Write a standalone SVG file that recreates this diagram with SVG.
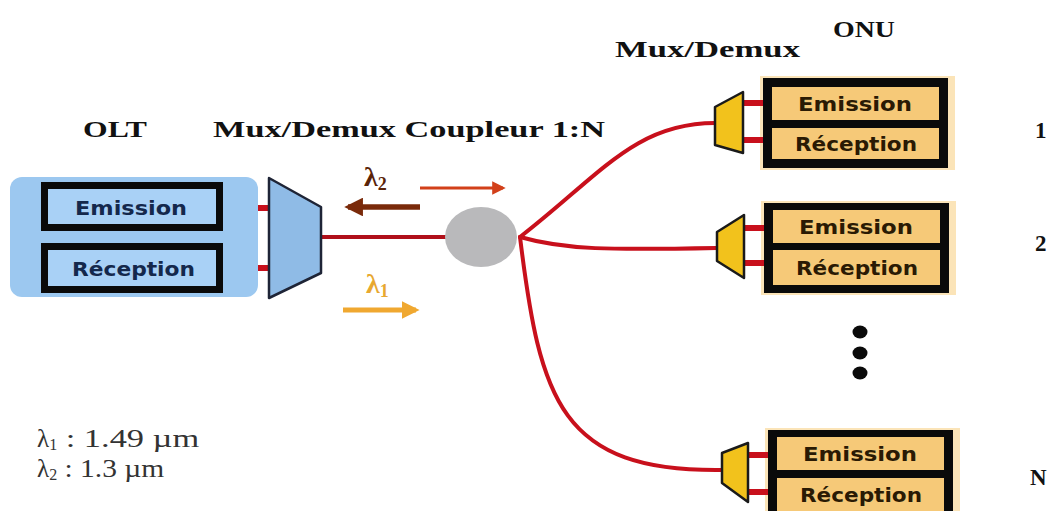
<svg xmlns="http://www.w3.org/2000/svg" width="1059" height="511" viewBox="0 0 1059 511">
<style>
.ser{font-family:"Liberation Serif","Times New Roman",serif;font-weight:bold;fill:#111}
.box{font-family:"DejaVu Sans","Verdana",sans-serif;font-weight:bold;font-size:20px}
.olt-t{fill:#14284c}
.onu-t{fill:#2a1a04}
.fib{fill:none;stroke:#c8101c;stroke-width:4;stroke-linecap:round}
.stub{stroke:#c8101c;stroke-width:6}
.oltbox{fill:#a9d1f6;stroke:#0a0a0a;stroke-width:7}
.onuframe{fill:#0a0a0a}
.onufill{fill:#f6c978}
.onumux{fill:#f2c21c;stroke:#1a1a1a;stroke-width:2.5;stroke-linejoin:round}
.leg{font-family:"Liberation Serif","Times New Roman",serif;font-size:25px;fill:#333}
</style>
<defs>
<marker id="ahR" viewBox="0 0 10 10" refX="8" refY="5" markerWidth="4.5" markerHeight="4.5" orient="auto"><path d="M0,0 L10,5 L0,10 z" fill="#d2401a"/></marker>
<marker id="ahB" viewBox="0 0 10 10" refX="8" refY="5" markerWidth="3.4" markerHeight="3.4" orient="auto"><path d="M0,0 L10,5 L0,10 z" fill="#7a2a0a"/></marker>
<marker id="ahG" viewBox="0 0 10 10" refX="8" refY="5" markerWidth="3.6" markerHeight="3.6" orient="auto"><path d="M0,0 L10,5 L0,10 z" fill="#f0a830"/></marker>
</defs>
<rect width="1059" height="511" fill="#fff"/>

<!-- titles -->
<text class="ser" x="83" y="137" font-size="23" textLength="64" lengthAdjust="spacingAndGlyphs">OLT</text>
<text class="ser" x="213" y="137" font-size="23" textLength="392" lengthAdjust="spacingAndGlyphs">Mux/Demux Coupleur 1:N</text>
<text class="ser" x="615" y="57" font-size="23" textLength="185" lengthAdjust="spacingAndGlyphs">Mux/Demux</text>
<text class="ser" x="833" y="37" font-size="23" textLength="62" lengthAdjust="spacingAndGlyphs">ONU</text>

<!-- connectors -->
<g id="connectors">
<line class="stub" x1="223" y1="208" x2="270" y2="208"/>
<line class="stub" x1="223" y1="268" x2="270" y2="268"/>
<line x1="321" y1="237" x2="450" y2="237" stroke="#b0101a" stroke-width="4"/>
<path class="fib" d="M520,237 C600,175 635,123 715,123"/>
<path class="fib" d="M520,237 C565,250 610,250 717,248"/>
<path class="fib" d="M520,237 C540,400 560,472 722,470"/>
<line x1="420" y1="188" x2="503" y2="188" stroke="#d2401a" stroke-width="3" marker-end="url(#ahR)"/>
<line x1="420" y1="207" x2="348" y2="207" stroke="#7a2a0a" stroke-width="5.5" marker-end="url(#ahB)"/>
<line x1="343" y1="310" x2="416" y2="310" stroke="#f0a830" stroke-width="5" marker-end="url(#ahG)"/>
</g>

<!-- OLT -->
<g id="olt">
<rect x="10" y="177" width="248" height="120" rx="12" fill="#9cc8f0"/>
<rect class="oltbox" x="44.5" y="185.5" width="175" height="42"/>
<rect class="oltbox" x="44.5" y="246.5" width="175" height="43"/>
<text class="box olt-t" x="75" y="215" textLength="112" lengthAdjust="spacingAndGlyphs">Emission</text>
<text class="box olt-t" x="72" y="276" textLength="123" lengthAdjust="spacingAndGlyphs">Réception</text>
</g>
<g id="olt-mux">
<polygon points="269,178 321,207 321,273 269,298" fill="#8fbbe6" stroke="#1e2436" stroke-width="2.5" stroke-linejoin="round"/>
</g>

<!-- coupler -->
<g id="coupler">
<ellipse cx="481" cy="237" rx="36" ry="30" fill="#b9b9bb"/>
</g>

<!-- lambda labels -->
<text class="ser" x="364" y="186" font-size="28" style="fill:#5a2408">λ<tspan font-size="18" dy="4">2</tspan></text>
<text class="ser" x="366" y="293" font-size="28" style="fill:#e8a830">λ<tspan font-size="18" dy="4">1</tspan></text>

<!-- ONU 1 -->
<g id="onu1">
<rect x="760" y="76" width="195" height="94" fill="#fbe4b8"/>
<line class="stub" x1="743" y1="103" x2="772" y2="103"/>
<line class="stub" x1="743" y1="140" x2="772" y2="140"/>
<polygon class="onumux" points="715,107 743,92 743,153 715,145"/>
<rect class="onuframe" x="763" y="78" width="185" height="90"/>
<rect class="onufill" x="772" y="87" width="167" height="33"/>
<rect class="onufill" x="772" y="128" width="167" height="31"/>
<text class="box onu-t" x="798" y="111" textLength="114" lengthAdjust="spacingAndGlyphs">Emission</text>
<text class="box onu-t" x="795" y="151" textLength="122" lengthAdjust="spacingAndGlyphs">Réception</text>
</g>

<!-- ONU 2 -->
<g id="onu2" transform="translate(1,125)">
<rect x="760" y="76" width="195" height="94" fill="#fbe4b8"/>
<line class="stub" x1="743" y1="103" x2="772" y2="103"/>
<line class="stub" x1="743" y1="138" x2="772" y2="138"/>
<polygon class="onumux" points="716,107 743,90 743,153 716,136"/>
<rect class="onuframe" x="763" y="78" width="185" height="90"/>
<rect class="onufill" x="772" y="85" width="167" height="33"/>
<rect class="onufill" x="772" y="125" width="167" height="35"/>
<text class="box onu-t" x="798" y="109" textLength="114" lengthAdjust="spacingAndGlyphs">Emission</text>
<text class="box onu-t" x="795" y="150" textLength="122" lengthAdjust="spacingAndGlyphs">Réception</text>
</g>

<!-- dots -->
<g id="dots" fill="#0a0a0a">
<ellipse cx="860" cy="332" rx="7.5" ry="6.5"/>
<ellipse cx="860" cy="353" rx="7.5" ry="6.5"/>
<ellipse cx="860" cy="373" rx="7.5" ry="6.5"/>
</g>

<!-- ONU N -->
<g id="onuN" transform="translate(5,352)">
<rect x="760" y="76" width="195" height="94" fill="#fbe4b8"/>
<line class="stub" x1="743" y1="103" x2="772" y2="103"/>
<line class="stub" x1="743" y1="140" x2="772" y2="140"/>
<polygon class="onumux" points="717,101 743,91 743,150 717,131"/>
<rect class="onuframe" x="763" y="78" width="185" height="90"/>
<rect class="onufill" x="772" y="85" width="167" height="33"/>
<rect class="onufill" x="772" y="126" width="167" height="35"/>
<text class="box onu-t" x="798" y="109" textLength="114" lengthAdjust="spacingAndGlyphs">Emission</text>
<text class="box onu-t" x="795" y="150" textLength="122" lengthAdjust="spacingAndGlyphs">Réception</text>
</g>

<!-- ONU numbers -->
<text class="ser" x="1035" y="138" font-size="23">1</text>
<text class="ser" x="1035" y="251" font-size="23">2</text>
<text class="ser" x="1030" y="485" font-size="23">N</text>

<!-- legend -->
<text class="leg" x="37" y="447">λ<tspan font-size="16" dy="3">1</tspan><tspan dy="-3" textLength="142" lengthAdjust="spacingAndGlyphs"> : 1.49 µm</tspan></text>
<text class="leg" x="37" y="477">λ<tspan font-size="16" dy="3">2</tspan><tspan dy="-3" textLength="107" lengthAdjust="spacingAndGlyphs"> : 1.3 µm</tspan></text>
</svg>
